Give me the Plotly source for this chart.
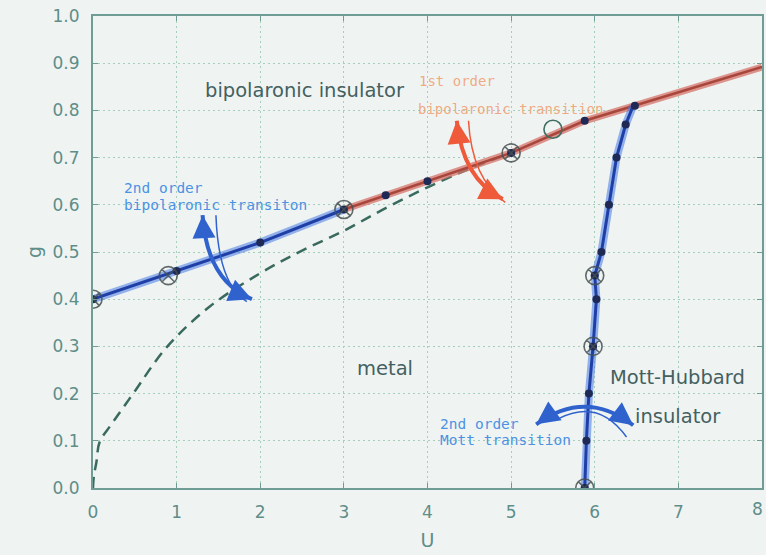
import numpy as np
import plotly.graph_objects as go

# ---- phase boundary data (U, g) ----
bip2_U = [0.0, 1.0, 2.0, 3.0]
bip2_g = [0.40, 0.46, 0.52, 0.59]

bip1_U = [3.0, 3.5, 4.0, 5.0, 5.88, 6.48, 8.0]
bip1_g = [0.59, 0.62, 0.65, 0.71, 0.778, 0.81, 0.892]
bip1_dot_U = [3.5, 4.0, 5.0, 5.88, 6.48]
bip1_dot_g = [0.62, 0.65, 0.71, 0.778, 0.81]

mott_U = [5.88, 5.90, 5.93, 5.98, 6.02, 6.00, 6.08, 6.17, 6.26, 6.37, 6.46]
mott_g = [0.00, 0.10, 0.20, 0.30, 0.40, 0.45, 0.50, 0.60, 0.70, 0.77, 0.81]
mott_dot_U = [5.88, 5.90, 5.93, 5.98, 6.02, 6.00, 6.08, 6.17, 6.26, 6.37]
mott_dot_g = [0.00, 0.10, 0.20, 0.30, 0.40, 0.45, 0.50, 0.60, 0.70, 0.77]

metal_U = [0.0, 0.01, 0.04, 0.08, 0.2, 0.3, 0.4, 0.5, 0.88, 1.4, 2.0, 2.5, 3.0, 3.5, 4.0, 4.5, 5.0]
metal_g = [0.0, 0.025, 0.054, 0.098, 0.13, 0.155, 0.18, 0.205, 0.298, 0.385, 0.455, 0.503, 0.545, 0.593, 0.637, 0.676, 0.71]

cross_U = [0.0, 0.9, 3.0, 5.0, 6.0, 5.98, 5.88]
cross_g = [0.40, 0.45, 0.59, 0.71, 0.45, 0.30, 0.00]

open_U = [5.5]
open_g = [0.76]

x_ticks = [0, 1, 2, 3, 4, 5, 6, 7, 8]
y_ticks = [0.0, 0.1, 0.2, 0.3, 0.4, 0.5, 0.6, 0.7, 0.8, 0.9, 1.0]

BG = "#eff4f3"
AXIS = "#6f9c94"
TICKTXT = "#5f8d88"
GRID = "#a6cfbb"
LABEL = "#44605f"
FONT = "DejaVu Sans"
NOTE_FONT = "DejaVu Sans Mono"

fig = go.Figure()

# metal / insulator crossover (dashed)
fig.add_trace(go.Scatter(x=metal_U, y=metal_g, mode="lines",
                         line=dict(color="#3a6a5e", width=2.5, dash="11px,7px"),
                         line_shape="spline", hoverinfo="skip"))

# 2nd order bipolaronic line (glow + core)
fig.add_trace(go.Scatter(x=bip2_U, y=bip2_g, mode="lines",
                         line=dict(color="rgba(70,120,225,0.55)", width=8)))
fig.add_trace(go.Scatter(x=bip2_U, y=bip2_g, mode="lines",
                         line=dict(color="#1f3fa6", width=3)))

# 1st order bipolaronic line
fig.add_trace(go.Scatter(x=bip1_U, y=bip1_g, mode="lines",
                         line=dict(color="rgba(214,115,105,0.75)", width=7)))
fig.add_trace(go.Scatter(x=bip1_U, y=bip1_g, mode="lines",
                         line=dict(color="#a8463c", width=2.5)))

# Mott line
fig.add_trace(go.Scatter(x=mott_U, y=mott_g, mode="lines",
                         line=dict(color="rgba(70,120,225,0.55)", width=8)))
fig.add_trace(go.Scatter(x=mott_U, y=mott_g, mode="lines",
                         line=dict(color="#1f3fa6", width=3)))

# data points
dotU = bip2_U + bip1_dot_U + mott_dot_U
dotg = bip2_g + bip1_dot_g + mott_dot_g
fig.add_trace(go.Scatter(x=dotU, y=dotg, mode="markers",
                         marker=dict(color="#1e2a55", size=8)))

fig.add_trace(go.Scatter(x=cross_U, y=cross_g, mode="markers",
                         marker=dict(symbol="circle-x-open", size=18,
                                     color="rgba(70,80,80,0.85)",
                                     line=dict(width=1.6))))
fig.add_trace(go.Scatter(x=open_U, y=open_g, mode="markers",
                         marker=dict(symbol="circle-open", size=18,
                                     color="#3f6e62", line=dict(width=1.6))))

# ---- curved double arrows ----
SX, SY = 84.0, 473.0  # pixels per unit on each axis


def curved_arrow(p0, c, p1, color, width, heads=True):
    fig.add_shape(type="path",
                  path=f"M {p0[0]},{p0[1]} Q {c[0]},{c[1]} {p1[0]},{p1[1]}",
                  line=dict(color=color, width=width), xref="x", yref="y")
    if not heads:
        return
    for tip, ref in ((p0, c), (p1, c)):
        dx = (ref[0] - tip[0]) * SX
        dy = -(ref[1] - tip[1]) * SY
        n = np.hypot(dx, dy)
        fig.add_annotation(x=tip[0], y=tip[1], ax=dx / n * 16, ay=dy / n * 16,
                           showarrow=True, arrowhead=2, arrowsize=1.15,
                           arrowwidth=width, arrowcolor=color, text="",
                           xref="x", yref="y")


BLUE_ARROW = "#2f62cc"
RED_ARROW = "#ee5a3a"

curved_arrow((1.31, 0.578), (1.36, 0.44), (1.90, 0.40), BLUE_ARROW, 4)
curved_arrow((1.47, 0.578), (1.50, 0.43), (1.84, 0.395), BLUE_ARROW, 1.5, heads=False)

curved_arrow((4.35, 0.778), (4.42, 0.655), (4.90, 0.612), RED_ARROW, 4)
curved_arrow((4.49, 0.778), (4.53, 0.655), (4.93, 0.605), RED_ARROW, 1.5, heads=False)

curved_arrow((5.30, 0.135), (5.89, 0.21), (6.46, 0.133), BLUE_ARROW, 4)
curved_arrow((5.58, 0.148), (6.05, 0.19), (6.38, 0.108), BLUE_ARROW, 1.5, heads=False)

# ---- region / transition labels ----
def label(x, y, text, color, size, anchor="center", family=FONT):
    fig.add_annotation(x=x, y=y, text=text, showarrow=False, xref="x", yref="y",
                       xanchor=anchor, yanchor="middle",
                       font=dict(family=family, size=size, color=color))


label(2.54, 0.842, "bipolaronic insulator", LABEL, 19.5)
label(3.49, 0.254, "metal", LABEL, 19.5)
label(6.99, 0.235, "Mott-Hubbard", LABEL, 19.5)
label(6.99, 0.151, "insulator", LABEL, 19.5)

ORANGE_TXT = "rgba(240,150,100,0.8)"
BLUE_TXT = "#4c92e2"
label(3.88, 0.862, "1st order", ORANGE_TXT, 14, "left", NOTE_FONT)
label(3.86, 0.802, "bipolaronic transition", ORANGE_TXT, 14, "left", NOTE_FONT)
label(0.35, 0.636, "2nd order", BLUE_TXT, 14.5, "left", NOTE_FONT)
label(0.35, 0.600, "bipolaronic transiton", BLUE_TXT, 14.5, "left", NOTE_FONT)
label(4.13, 0.135, "2nd order", BLUE_TXT, 14.5, "left", NOTE_FONT)
label(4.13, 0.102, "Mott transition", BLUE_TXT, 14.5, "left", NOTE_FONT)

# last x tick label, kept just inside the page edge
fig.add_annotation(x=8, y=0, xref="x", yref="paper", text="8", showarrow=False,
                   xanchor="right", yanchor="top", yshift=-9, xshift=3,
                   font=dict(family=FONT, size=17, color=TICKTXT))

axis_common = dict(showline=True, linecolor=AXIS, linewidth=2, mirror="ticks",
                   ticks="inside", ticklen=5, tickcolor=AXIS,
                   showgrid=True, gridcolor=GRID, griddash="2px,3px", gridwidth=1,
                   zeroline=False, ticklabelstandoff=8,
                   tickfont=dict(family=FONT, size=17, color=TICKTXT))

fig.update_xaxes(range=[0, 8], tickvals=x_ticks[:-1], ticktext=[str(v) for v in x_ticks[:-1]],
                 title=dict(text="U", font=dict(family=FONT, size=19, color=TICKTXT), standoff=12),
                 **axis_common)
fig.update_yaxes(range=[0, 1.0], tickvals=y_ticks, ticktext=[f"{v:.1f}" for v in y_ticks],
                 title=dict(text="g", font=dict(family=FONT, size=19, color=TICKTXT), standoff=6),
                 **axis_common)

fig.update_layout(width=766, height=555, showlegend=False,
                  paper_bgcolor=BG, plot_bgcolor=BG,
                  margin=dict(l=93, r=2, t=16, b=67))

fig.write_html("out.html")
